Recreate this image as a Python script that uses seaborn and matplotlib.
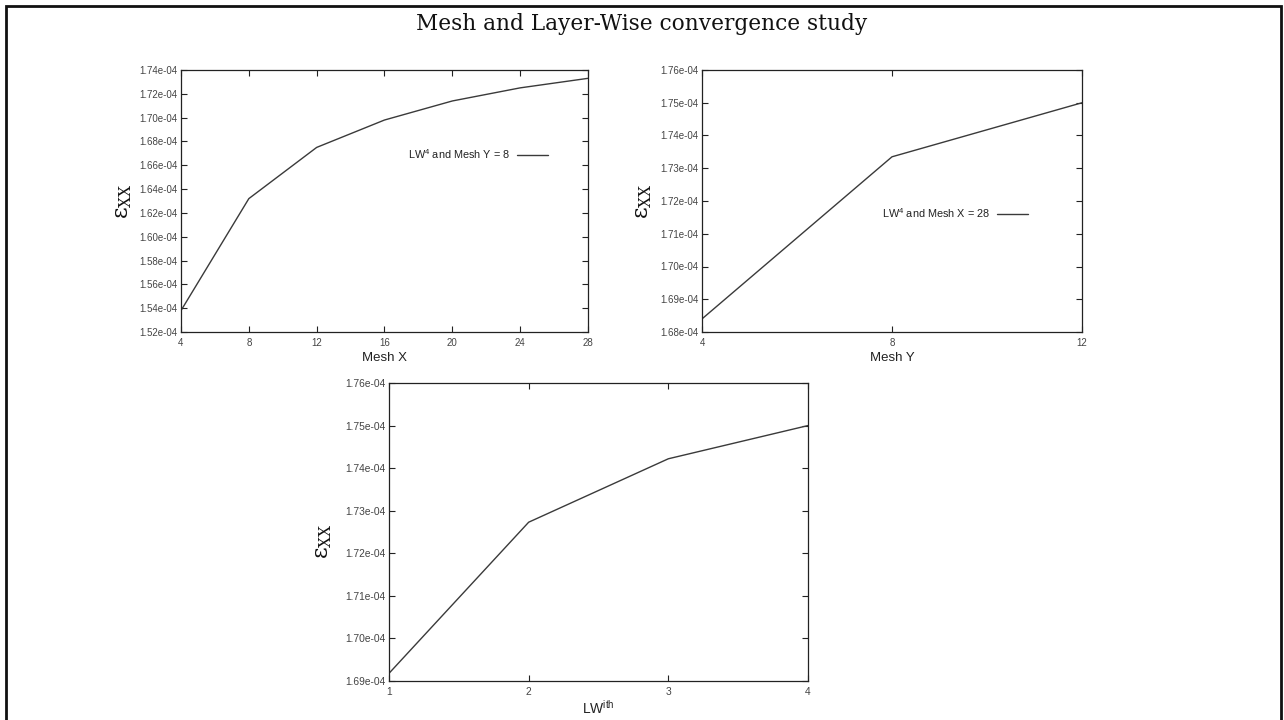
import matplotlib
matplotlib.use("Agg")
import matplotlib.pyplot as plt
from matplotlib.patches import Rectangle
from matplotlib.ticker import FormatStrFormatter, MultipleLocator
import seaborn as sns
import pandas as pd

# Convergence data: strain eps_xx against mesh refinement and layer-wise order
mesh_x = [4, 8, 12, 16, 20, 24, 28]
eps_mesh_x = [1.538e-4, 1.632e-4, 1.675e-4, 1.698e-4, 1.714e-4, 1.725e-4, 1.733e-4]

mesh_y = [4, 8, 12]
eps_mesh_y = [1.684e-4, 1.7335e-4, 1.750e-4]

lw_order = [1, 2, 3, 4]
eps_lw = [1.6918e-4, 1.7273e-4, 1.7422e-4, 1.750e-4]

label_mesh_x = r"LW$^{\mathsf{4}}$ and Mesh Y = 8"
label_mesh_y = r"LW$^{\mathsf{4}}$ and Mesh X = 28"

sns.set_theme(style="white")
plt.rcParams["font.family"] = ["Liberation Sans", "DejaVu Sans"]
plt.rcParams["mathtext.fontset"] = "custom"
plt.rcParams["mathtext.rm"] = "DejaVu Serif"
plt.rcParams["mathtext.it"] = "DejaVu Serif:italic"
plt.rcParams["mathtext.sf"] = "Liberation Sans"

W, H = 1284, 720
fig = plt.figure(figsize=(W / 100, H / 100), dpi=100)
fig.patch.set_facecolor("white")


def px_axes(left, top, right, bottom):
    return fig.add_axes([left / W, 1 - bottom / H, (right - left) / W, (bottom - top) / H])


line_color = "#3a3a3a"
tick_color = "#444444"


def style_axes(ax, xlim, xticks, ylim, ystep):
    ax.set_xlim(*xlim)
    ax.set_ylim(*ylim)
    ax.set_xticks(xticks)
    ax.yaxis.set_major_locator(MultipleLocator(ystep))
    ax.yaxis.set_major_formatter(FormatStrFormatter("%.2e"))
    ax.xaxis.set_major_formatter(FormatStrFormatter("%d"))
    for s in ax.spines.values():
        s.set_visible(True)
        s.set_color("#222222")
        s.set_linewidth(0.9)
    ax.tick_params(axis="both", which="major", direction="in", length=4, width=0.8,
                   top=True, right=True, bottom=True, left=True,
                   labelsize=7, labelcolor=tick_color, color="#222222")
    ax.tick_params(axis="y", pad=2.5)
    ax.tick_params(axis="x", pad=4)
    ax.grid(False)


def eps_ylabel(ax, x, y=0.5):
    ax.set_ylabel(r"ε$_{\mathrm{XX}}$", fontsize=16, color="#111111",
                  family=["DejaVu Serif"])
    ax.yaxis.set_label_coords(x, y)


# Panel 1: Mesh X
ax1 = px_axes(181, 70, 588, 332)
df1 = pd.DataFrame({"x": mesh_x, "eps": eps_mesh_x})
sns.lineplot(data=df1, x="x", y="eps", ax=ax1, color=line_color, linewidth=1.0,
             label=label_mesh_x)
style_axes(ax1, (4, 28), mesh_x, (1.52e-4, 1.74e-4), 0.02e-4)
ax1.set_xlabel("Mesh X", fontsize=9.5, color="#222222")
ax1.xaxis.set_label_coords(0.5, -0.075)
eps_ylabel(ax1, -0.115)
ax1.legend(loc="center right", bbox_to_anchor=(0.902, 0.679), frameon=False,
           markerfirst=False, fontsize=7.8, borderpad=0, borderaxespad=0,
           handlelength=2.9, handletextpad=0.65, labelcolor="#222222")

# Panel 2: Mesh Y
ax2 = px_axes(702, 70, 1082, 332)
df2 = pd.DataFrame({"x": mesh_y, "eps": eps_mesh_y})
sns.lineplot(data=df2, x="x", y="eps", ax=ax2, color=line_color, linewidth=1.0,
             label=label_mesh_y)
style_axes(ax2, (4, 12), mesh_y, (1.68e-4, 1.76e-4), 0.01e-4)
ax2.set_xlabel("Mesh Y", fontsize=9.5, color="#222222")
ax2.xaxis.set_label_coords(0.5, -0.075)
eps_ylabel(ax2, -0.127)
ax2.legend(loc="center right", bbox_to_anchor=(0.858, 0.454), frameon=False,
           markerfirst=False, fontsize=7.8, borderpad=0, borderaxespad=0,
           handlelength=2.9, handletextpad=0.65, labelcolor="#222222")

# Panel 3: layer-wise order
ax3 = px_axes(389, 383, 808, 681)
df3 = pd.DataFrame({"x": lw_order, "eps": eps_lw})
sns.lineplot(data=df3, x="x", y="eps", ax=ax3, color=line_color, linewidth=1.0,
             legend=False)
style_axes(ax3, (1, 4), lw_order, (1.69e-4, 1.76e-4), 0.01e-4)
ax3.tick_params(axis="both", labelsize=7.4)
ax3.set_xlabel(r"LW$^{\mathsf{ith}}$", fontsize=10, color="#222222")
ax3.xaxis.set_label_coords(0.5, -0.06)
eps_ylabel(ax3, -0.132, 0.47)

# Title and outer frame
fig.text(0.5, 1 - 24 / H, "Mesh and Layer-Wise convergence study",
         ha="center", va="center", fontsize=15.6, family=["DejaVu Serif"],
         color="#111111")
fig.add_artist(Rectangle((6 / W, -0.05), (1281 - 6) / W, 1.05 - 6 / H,
                         transform=fig.transFigure, fill=False,
                         edgecolor="#111111", linewidth=2.0, clip_on=False))

fig.savefig("out.png", dpi=100, facecolor="white")
